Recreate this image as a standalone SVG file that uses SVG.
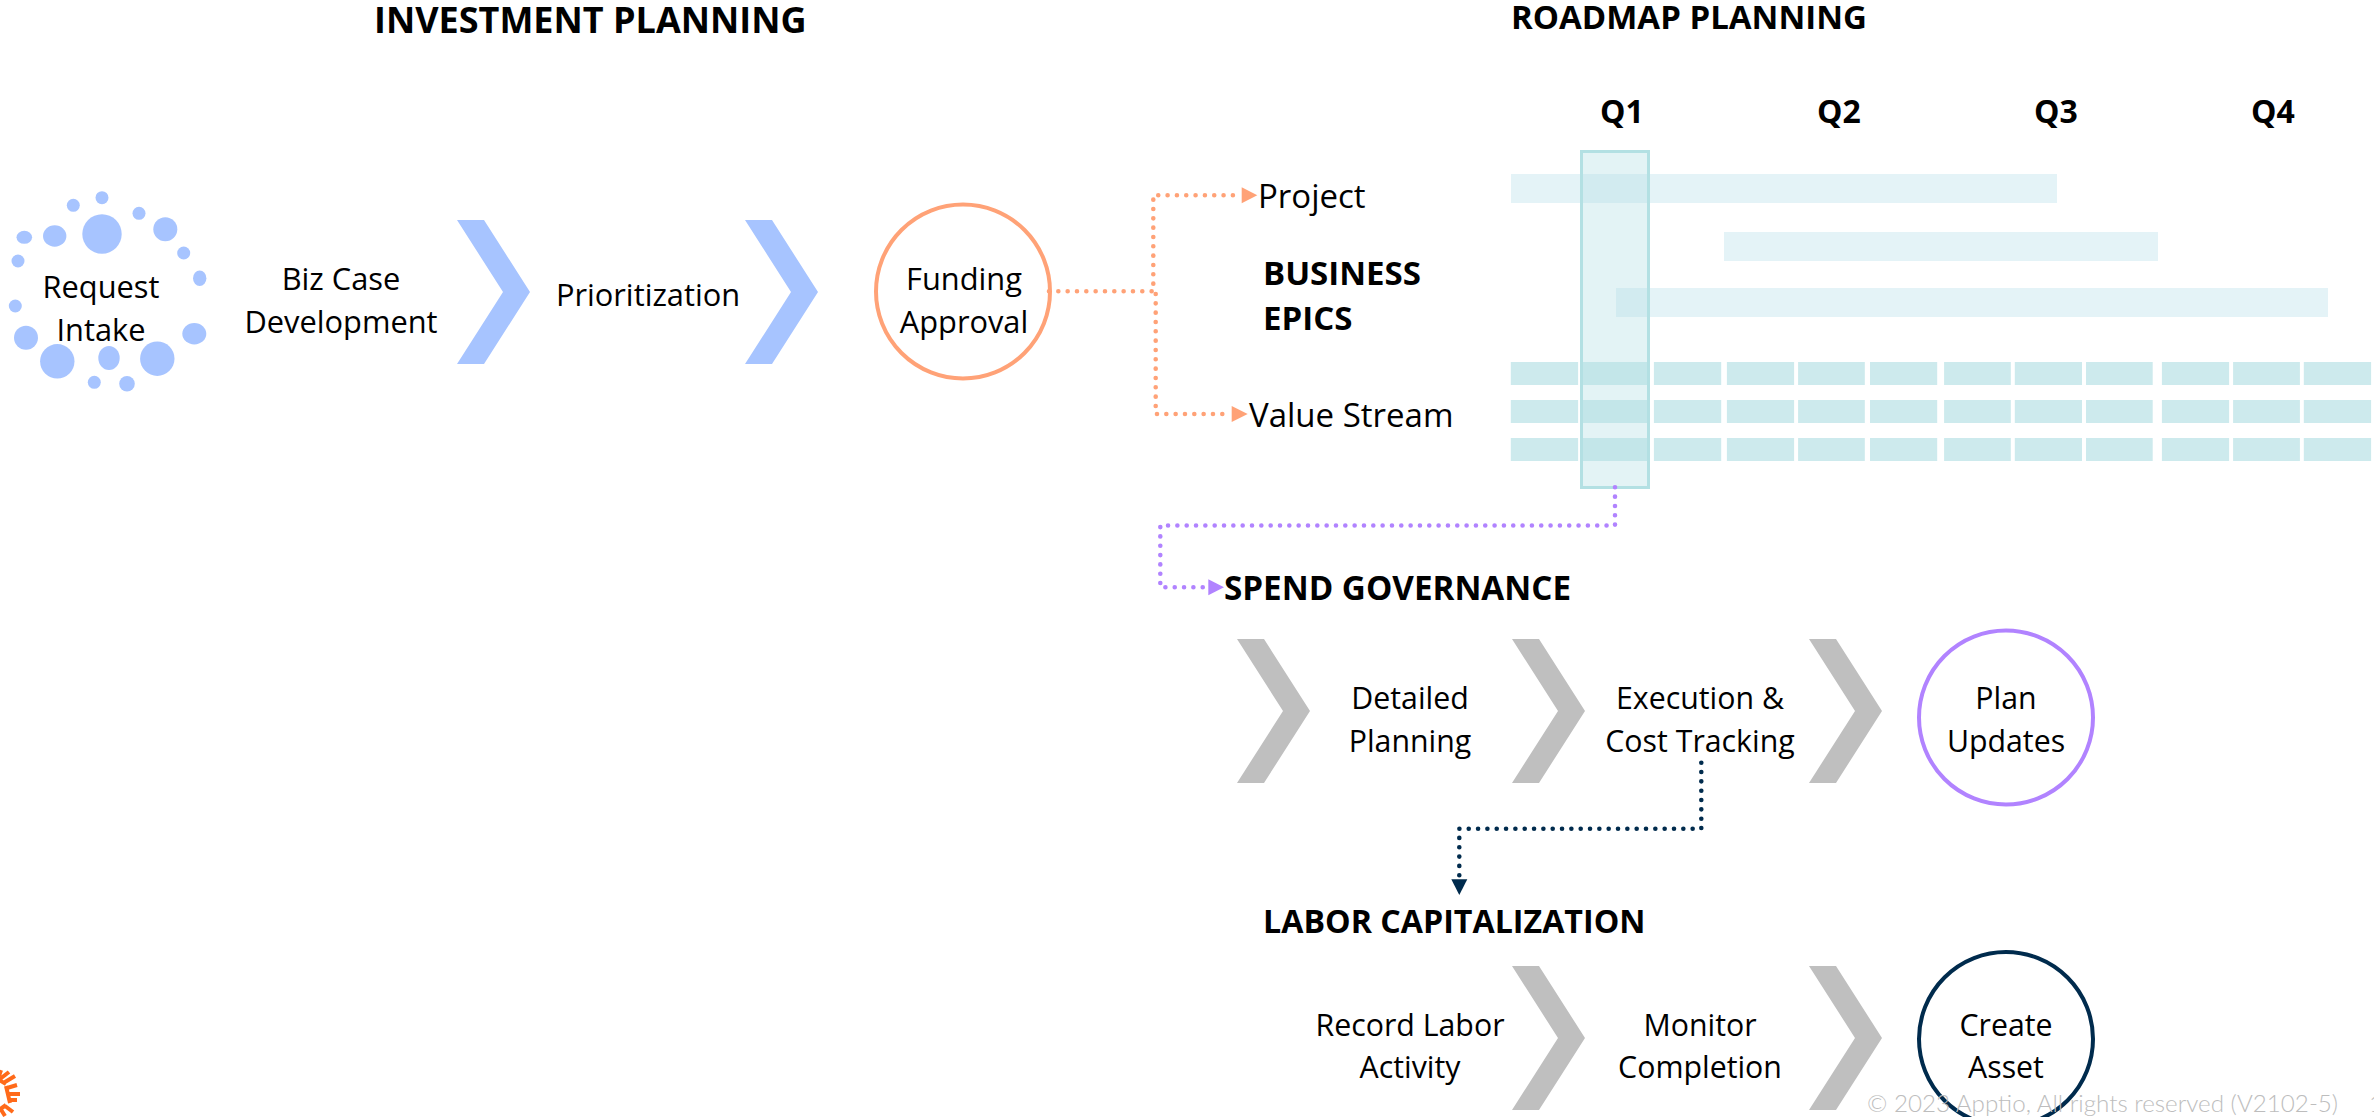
<svg xmlns="http://www.w3.org/2000/svg" width="2374" height="1117" viewBox="0 0 2374 1117">
<style>
text{font-family:"Open Sans","Liberation Sans",sans-serif;fill:#000;font-size:30.8px}
.c{text-anchor:middle}
.s{font-size:30.3px}
.b{font-weight:700;font-size:33px}
.l{font-size:33px}
.blue{fill:#a7c4ff}
.grey{fill:#bfbfbf}
.ring{fill:none;stroke-width:4}
.bar{fill:#e4f3f7}
.seg{fill:#cdeaed}
.conn{fill:none;stroke-width:4.6;stroke-linecap:round;stroke-dasharray:0 9.33}
.copy{font-family:Lato,"Liberation Sans",sans-serif;font-weight:300;font-size:24.2px;fill:#bdbdbd}
</style>
<defs>
<path id="chev" d="M0 0H27L73 72L27 144H0L46 72Z"/>
<g id="row" class="seg">
<rect x="1510.8" width="67.3" height="23"/><rect x="1581.5" width="68.4" height="23"/><rect x="1653.9" width="67.3" height="23"/><rect x="1726.9" width="67.2" height="23"/><rect x="1798.1" width="66.7" height="23"/><rect x="1870" width="67.2" height="23"/><rect x="1944.1" width="66.7" height="23"/><rect x="2014.8" width="67.2" height="23"/><rect x="2086" width="66.7" height="23"/><rect x="2161.9" width="67.2" height="23"/><rect x="2233.1" width="66.8" height="23"/><rect x="2303.8" width="67.3" height="23"/>
</g>
</defs>
<rect width="2374" height="1117" fill="#fff"/>
<g id="titles">
<text class="b" x="374" y="33" style="font-size:36px">INVESTMENT PLANNING</text>
<text class="b" x="1511" y="29">ROADMAP PLANNING</text>
<text class="b c" x="1622" y="123" style="font-size:32px">Q1</text>
<text class="b c" x="1839" y="123" style="font-size:32px">Q2</text>
<text class="b c" x="2056" y="123" style="font-size:32px">Q3</text>
<text class="b c" x="2273" y="123" style="font-size:32px">Q4</text>
<text class="b" x="1263" y="285">BUSINESS</text>
<text class="b" x="1263" y="330">EPICS</text>
</g>
<g id="request-intake">
<g class="blue">
<circle cx="102" cy="197.7" r="6.5"/><circle cx="73.3" cy="205.3" r="6.5"/><circle cx="139" cy="213.3" r="6.5"/>
<circle cx="102" cy="234" r="19.7"/><circle cx="165.3" cy="229.3" r="12"/><ellipse cx="54.7" cy="236" rx="11.7" ry="10.7"/>
<ellipse cx="24.3" cy="237.3" rx="7.8" ry="6.5"/><circle cx="18" cy="261" r="6.5"/><circle cx="183.7" cy="253" r="6.5"/>
<ellipse cx="199.7" cy="278.3" rx="6.7" ry="7.8"/><circle cx="15.3" cy="306" r="6.5"/><circle cx="26" cy="337.7" r="12"/>
<circle cx="57.3" cy="361.3" r="17.2"/><ellipse cx="109" cy="358" rx="10.7" ry="12"/><circle cx="157.3" cy="358.7" r="17.2"/>
<ellipse cx="194.3" cy="333.7" rx="12" ry="10.7"/><circle cx="94.3" cy="382.3" r="6.5"/><circle cx="127" cy="383.7" r="7.8"/>
</g>
<text class="c" x="101" y="298">Request</text>
<text class="c" x="101" y="341">Intake</text>
</g>
<g id="biz-case"><text class="c" x="341" y="290">Biz Case</text><text class="c" x="341" y="333">Development</text></g>
<use id="chevron-1" href="#chev" class="blue" x="457" y="220"/>
<g id="prioritization"><text class="c" x="648" y="306">Prioritization</text></g>
<use id="chevron-2" href="#chev" class="blue" x="745" y="220"/>
<g id="funding-approval">
<circle class="ring" cx="963" cy="291.5" r="87" stroke="#ffa277"/>
<text class="c" x="964" y="290">Funding</text><text class="c" x="964" y="333">Approval</text>
</g>
<g id="labels">
<text class="l" x="1258" y="208">Project</text>
<text class="l" x="1249" y="427">Value Stream</text>
</g>
<g id="gantt">
<rect class="bar" x="1511" y="174" width="546" height="29"/>
<rect class="bar" x="1724" y="232" width="434" height="29"/>
<rect class="bar" x="1616" y="288" width="712" height="29"/>
<use id="row-1" href="#row" y="362"/>
<use id="row-2" href="#row" y="400"/>
<use id="row-3" href="#row" y="438"/>
<rect id="q1-highlight" x="1581.5" y="151.5" width="67" height="336" fill="#b3dfe4" fill-opacity=".37" stroke="#b3e0e3" stroke-width="3"/>
</g>
<g id="connectors">
<g stroke="#ffa277" fill="#ffa277">
<path class="conn" d="M1049 291.3H1153.3V195.3H1241"/>
<path class="conn" d="M1155.7 294V414H1231"/>
<path stroke="none" d="M1241.7 187.3L1257.3 195.3L1241.7 203.3Z"/>
<path stroke="none" d="M1231.7 406L1247.7 414L1231.7 422Z"/>
</g>
<g stroke="#b183ff" fill="#b183ff">
<path class="conn" d="M1615 487.3V525.5H1160.3V587.3H1207"/>
<path stroke="none" d="M1208.3 579.3L1224 587.3L1208.3 595.3Z"/>
</g>
<g stroke="#002b4d" fill="#002b4d">
<path class="conn" d="M1701.3 762.7V828.7H1459.3V878"/>
<path stroke="none" d="M1451.3 879.3H1467.3L1459.3 895Z"/>
</g>
</g>
<g id="spend-governance">
<text class="b" x="1224" y="600" style="font-size:33.2px">SPEND GOVERNANCE</text>
<use href="#chev" class="grey" x="1237" y="639"/>
<text class="c s" x="1410" y="709">Detailed</text><text class="c s" x="1410" y="752">Planning</text>
<use href="#chev" class="grey" x="1512" y="639"/>
<text class="c s" x="1700" y="709">Execution &amp;</text><text class="c s" x="1700" y="752">Cost Tracking</text>
<use href="#chev" class="grey" x="1809" y="639"/>
<circle class="ring" cx="2006" cy="717.5" r="87" stroke="#b183ff"/>
<text class="c s" x="2006" y="709">Plan</text><text class="c s" x="2006" y="752">Updates</text>
</g>
<g id="labor-capitalization">
<text class="b" x="1263" y="933" style="font-size:32.2px">LABOR CAPITALIZATION</text>
<text class="c s" x="1410" y="1036">Record Labor</text><text class="c s" x="1410" y="1078">Activity</text>
<use href="#chev" class="grey" x="1512" y="966"/>
<text class="c s" x="1700" y="1036">Monitor</text><text class="c s" x="1700" y="1078">Completion</text>
<use href="#chev" class="grey" x="1809" y="966"/>
<circle class="ring" cx="2006" cy="1039" r="87" stroke="#002b4d"/>
<text class="c s" x="2006" y="1036">Create</text><text class="c s" x="2006" y="1078">Asset</text>
</g>
<g id="footer">
<text class="copy" x="1867" y="1112">© 2023 Apptio, All rights reserved (V2102-5)</text>
<text class="copy" x="2369" y="1112">1</text>
</g>
<g id="logo" stroke="#ff6a1a" stroke-width="4" fill="none">
<path d="M8 1094H20M8 1100H17M7 1088L17 1085M5 1106L13 1112M5 1082L15 1076M0 1108L5 1116M0 1079L9 1072M-1 1076L1 1070M6 1086L10 1103M-1 1080L6 1084M-1 1110L6 1105"/>
</g>
</svg>
